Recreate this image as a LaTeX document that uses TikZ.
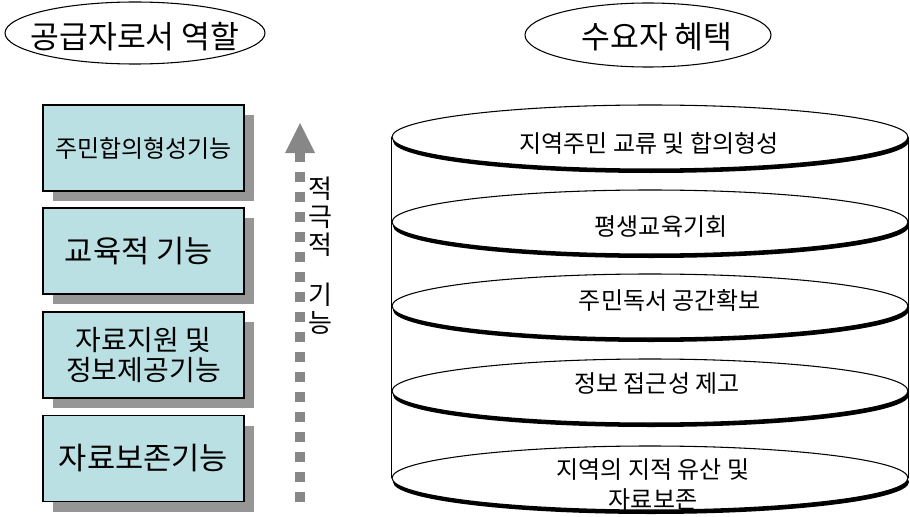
\documentclass[tikz,border=0pt]{standalone}
\usepackage{fontspec}
\setmainfont{Noto Sans CJK KR}
\usetikzlibrary{shapes.geometric,shadows,arrows.meta,backgrounds}
\definecolor{boxfill}{HTML}{BBE0E3}
\definecolor{boxshade}{HTML}{969696}
\definecolor{arrowgray}{HTML}{878787}

\tikzset{
  titleoval/.style={draw,ellipse,line width=0.8pt,inner sep=0pt,minimum width=195pt,minimum height=46.5pt},
  titletext/.style={inner sep=0pt,font=\fontsize{23.5}{28}\selectfont},
  rolebox/.style={draw,line width=0.8pt,fill=boxfill,inner sep=0pt,align=center,
    minimum width=150.75pt,minimum height=64.5pt,
    drop shadow={shadow xshift=7.5pt,shadow yshift=-7.5pt,fill=boxshade,opacity=1}},
  benefitoval/.style={draw,ellipse,line width=0.8pt,fill=white,inner sep=0pt,
    minimum width=387pt,minimum height=48pt,
    drop shadow={shadow xshift=0.75pt,shadow yshift=-3pt,fill=black,opacity=1}},
  benefittext/.style={inner sep=0pt,align=center,font=\fontsize{18}{22.5}\selectfont},
  upflow/.style={arrowgray,line width=7.5pt,dash pattern=on 7.5pt off 7.5pt,
    -{Triangle[width=22.5pt,length=22.5pt,line width=0pt]}}
}

\begin{document}
\begin{tikzpicture}[x=0.75pt,y=0.75pt,yscale=-1,xscale=1]
\useasboundingbox (0,0) rectangle (910,517);

% Shape: Ellipse (headers)
\node[titleoval] (supplyhead) at (135,33) {};
\node[titletext] (supplytext) at (135,37) {공급자로서 역할};
\node[titleoval,minimum width=184.5pt,minimum height=48pt] (demandhead) at (648,35) {};
\node[titletext] (demandtext) at (657,37) {수요자 혜택};

% Shape: Rectangle (roles)
\node[rolebox,font=\fontsize{18}{22}\selectfont] (role1) at (143.5,148) {주민합의형성기능};
\node[rolebox,font=\fontsize{23}{28}\selectfont] (role2) at (143.5,251) {교육적 기능\hspace{7pt}};
\node[rolebox,font=\fontsize{21}{23}\selectfont] (role3) at (143.5,355) {자료지원 및\\정보제공기능};
\node[rolebox,font=\fontsize{23}{28}\selectfont] (role4) at (143.5,458.5) {자료보존기능};

% Up Arrow
\coordinate (flowbot) at (300,502);
\coordinate (flowtop) at (300,123);
\draw[upflow] (flowbot) -- (flowtop);

% Text Node
\node[inner sep=0pt,anchor=north,align=center,font=\fontsize{19.5}{21}\selectfont] (flowtext) at (320,177) {적\\극\\적\\[16pt]기\\능};

% Shape: Ellipse (benefits)
\node[benefitoval] (ben1) at (650,137) {};
\node[benefitoval] (ben2) at (650,222) {};
\node[benefitoval] (ben3) at (650,306) {};
\node[benefitoval] (ben4) at (650,391) {};
\node[benefitoval] (ben5) at (650,478) {};
\begin{scope}[on background layer]
\draw[line width=0.8pt] (ben1.west) -- (ben5.west);
\draw[line width=0.8pt] (ben1.east) -- (ben5.east);
\end{scope}

% Text Node
\node[benefittext] (bt1) at (649,143) {지역주민 교류 및 합의형성};
\node[benefittext] (bt2) at (661,227) {평생교육기회};
\node[benefittext] (bt3) at (670,301) {주민독서 공간확보};
\node[benefittext] (bt4) at (657,384) {정보 접근성 제고};
\node[benefittext] (bt5) at (653,485) {지역의 지적 유산 및\\자료보존};

\end{tikzpicture}
\end{document}
